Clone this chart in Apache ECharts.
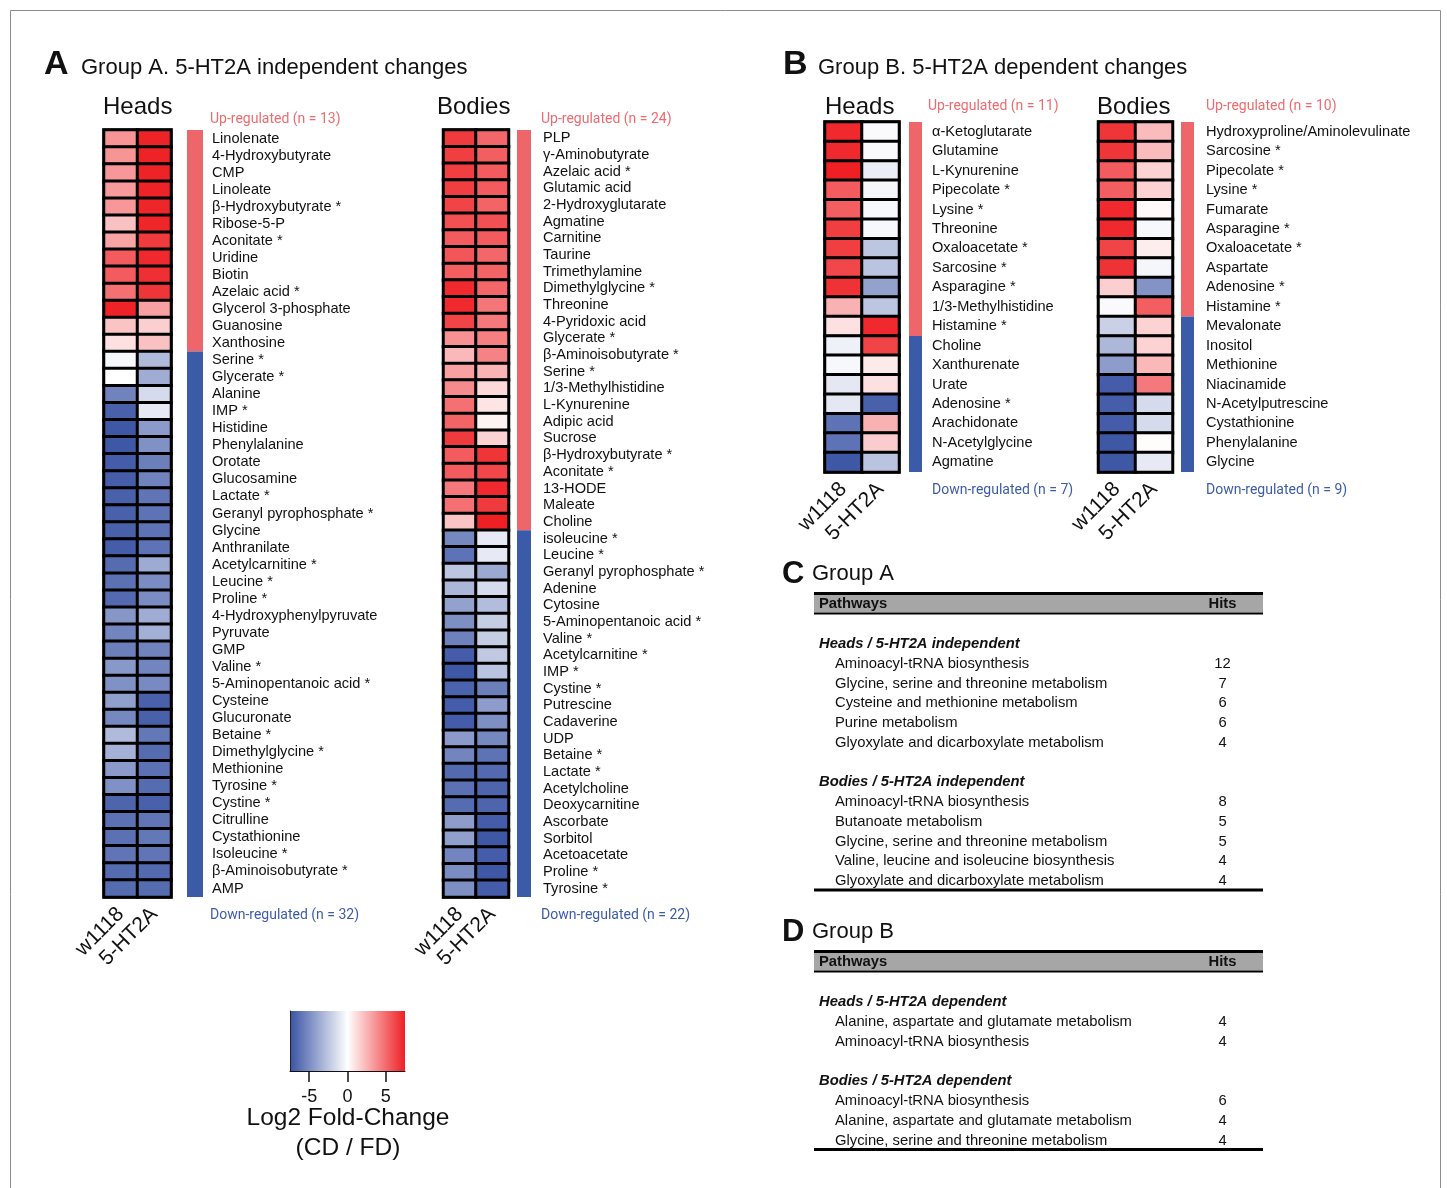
<!DOCTYPE html>
<html>
<head>
<meta charset="utf-8">
<script src="https://cdn.jsdelivr.net/npm/echarts@6/dist/echarts.min.js"></script>
<style>
  html, body { margin: 0; padding: 0; background: #fff; }
  #chart { width: 1447px; height: 1188px; }
</style>
</head>
<body>
<div id="chart"></div>
<script>
// ---------- data ----------
const genotypes = ['w1118', '5-HT2A'];

// Group A, heads (log2 fold-change CD / FD)
const headsA_names = ['Linolenate', '4-Hydroxybutyrate', 'CMP', 'Linoleate', 'β-Hydroxybutyrate *', 'Ribose-5-P',
  'Aconitate *', 'Uridine', 'Biotin', 'Azelaic acid *', 'Glycerol 3-phosphate', 'Guanosine', 'Xanthosine',
  'Serine *', 'Glycerate *', 'Alanine', 'IMP *', 'Histidine', 'Phenylalanine', 'Orotate', 'Glucosamine',
  'Lactate *', 'Geranyl pyrophosphate *', 'Glycine', 'Anthranilate', 'Acetylcarnitine *', 'Leucine *',
  'Proline *', '4-Hydroxyphenylpyruvate', 'Pyruvate', 'GMP', 'Valine *', '5-Aminopentanoic acid *',
  'Cysteine', 'Glucuronate', 'Betaine *', 'Dimethylglycine *', 'Methionine', 'Tyrosine *', 'Cystine *',
  'Citrulline', 'Cystathionine', 'Isoleucine *', 'β-Aminoisobutyrate *', 'AMP'];
const headsA_w1118 = [3.6, 3.6, 3.5, 3.4, 3.5, 2.1, 3.1, 5.5, 5.5, 4.8, 7.4, 2.0, 1.0,
  -0.3, 0.0, -5.4, -6.9, -7.3, -7.3, -7.1, -7.0, -6.9, -6.9, -6.9, -7.1, -6.4, -6.2, -6.5, -4.6, -5.3,
  -5.6, -4.5, -4.8, -4.2, -5.2, -3.0, -3.4, -4.4, -4.8, -6.7, -6.2, -6.2, -6.0, -6.4, -6.4];
const headsA_5ht2a = [7.4, 7.4, 7.4, 7.4, 7.3, 7.3, 6.6, 7.2, 7.0, 6.8, 3.2, 1.6, 2.1,
  -3.0, -3.6, -1.6, -0.9, -4.4, -4.8, -5.6, -5.4, -6.0, -6.1, -6.1, -6.1, -3.7, -5.0, -5.0, -3.6, -3.5,
  -5.4, -5.3, -5.1, -6.9, -6.9, -5.9, -6.4, -6.2, -6.4, -6.9, -6.0, -5.9, -6.0, -6.5, -6.4];
const headsA_up = 13;
const headsA_down = 32;

// Group A, bodies
const bodiesA_names = ['PLP', 'γ-Aminobutyrate', 'Azelaic acid *', 'Glutamic acid', '2-Hydroxyglutarate',
  'Agmatine', 'Carnitine', 'Taurine', 'Trimethylamine', 'Dimethylglycine *', 'Threonine', '4-Pyridoxic acid',
  'Glycerate *', 'β-Aminoisobutyrate *', 'Serine *', '1/3-Methylhistidine', 'L-Kynurenine', 'Adipic acid',
  'Sucrose', 'β-Hydroxybutyrate *', 'Aconitate *', '13-HODE', 'Maleate', 'Choline',
  'isoleucine *', 'Leucine *', 'Geranyl pyrophosphate *', 'Adenine', 'Cytosine', '5-Aminopentanoic acid *',
  'Valine *', 'Acetylcarnitine *', 'IMP *', 'Cystine *', 'Putrescine', 'Cadaverine', 'UDP', 'Betaine *',
  'Lactate *', 'Acetylcholine', 'Deoxycarnitine', 'Ascorbate', 'Sorbitol', 'Acetoacetate', 'Proline *',
  'Tyrosine *'];
const bodiesA_w1118 = [6.6, 6.5, 6.5, 6.5, 6.3, 5.9, 5.5, 5.7, 5.4, 7.2, 7.2, 6.3, 3.7, 2.4, 3.2, 3.9,
  4.8, 5.2, 6.6, 5.5, 5.5, 4.5, 4.8, 2.0,
  -5.2, -6.1, -2.5, -3.2, -4.1, -4.9, -5.5, -7.1, -7.3, -6.8, -7.1, -7.1, -4.4, -5.3, -6.5, -6.2,
  -6.4, -4.3, -4.2, -5.3, -5.0, -4.9];
const bodiesA_5ht2a = [5.1, 5.4, 5.5, 5.5, 5.2, 5.9, 5.5, 5.1, 5.2, 5.1, 4.6, 4.5, 4.3, 4.2, 2.5, 1.3,
  0.9, 0.4, 1.5, 6.8, 6.2, 7.2, 6.6, 7.5,
  -0.9, -0.9, -3.8, -1.6, -2.9, -2.2, -2.2, -2.4, -2.6, -5.6, -4.3, -4.9, -5.2, -6.1, -6.5, -6.7,
  -6.7, -7.1, -7.3, -7.1, -7.3, -7.1];
const bodiesA_up = 24;
const bodiesA_down = 22;

// Group B, heads
const headsB_names = ['α-Ketoglutarate', 'Glutamine', 'L-Kynurenine', 'Pipecolate *', 'Lysine *', 'Threonine',
  'Oxaloacetate *', 'Sarcosine *', 'Asparagine *', '1/3-Methylhistidine', 'Histamine *',
  'Choline', 'Xanthurenate', 'Urate', 'Adenosine *', 'Arachidonate', 'N-Acetylglycine', 'Agmatine'];
const headsB_w1118 = [7.2, 7.2, 7.5, 5.5, 5.4, 6.5, 6.5, 6.2, 6.9, 2.6, 1.0,
  -0.6, -0.3, -1.0, -1.0, -6.1, -6.1, -7.3];
const headsB_5ht2a = [-0.2, -0.2, -0.8, -0.4, -0.3, -0.3, -2.5, -2.6, -4.1, -2.5, 7.2,
  6.3, 0.7, 1.0, -6.9, 2.6, 1.7, -2.6];
const headsB_up = 11;
const headsB_down = 7;

// Group B, bodies
const bodiesB_names = ['Hydroxyproline/Aminolevulinate', 'Sarcosine *', 'Pipecolate *', 'Lysine *', 'Fumarate',
  'Asparagine *', 'Oxaloacetate *', 'Aspartate', 'Adenosine *', 'Histamine *',
  'Mevalonate', 'Inositol', 'Methionine', 'Niacinamide', 'N-Acetylputrescine', 'Cystathionine',
  'Phenylalanine', 'Glycine'];
const bodiesB_w1118 = [6.8, 6.8, 5.5, 5.4, 7.2, 7.2, 6.3, 6.9, 1.6, -0.2,
  -2.0, -3.1, -4.3, -7.1, -7.0, -7.1, -7.3, -7.3];
const bodiesB_5ht2a = [2.3, 2.3, 1.5, 1.5, 0.2, -0.3, 0.6, -0.4, -4.7, 5.4,
  1.5, 1.5, 2.4, 4.5, -1.6, -1.6, 0.1, -0.9];
const bodiesB_up = 10;
const bodiesB_down = 9;

// colour scale
const scaleMin = -7.5;
const scaleMax = 7.5;
const scaleTicks = [-5, 0, 5];

// pathway tables
const pathsC_heads = ['Aminoacyl-tRNA biosynthesis', 'Glycine, serine and threonine metabolism',
  'Cysteine and methionine metabolism', 'Purine metabolism', 'Glyoxylate and dicarboxylate metabolism'];
const hitsC_heads = [12, 7, 6, 6, 4];
const pathsC_bodies = ['Aminoacyl-tRNA biosynthesis', 'Butanoate metabolism',
  'Glycine, serine and threonine metabolism', 'Valine, leucine and isoleucine biosynthesis',
  'Glyoxylate and dicarboxylate metabolism'];
const hitsC_bodies = [8, 5, 5, 4, 4];
const pathsD_heads = ['Alanine, aspartate and glutamate metabolism', 'Aminoacyl-tRNA biosynthesis'];
const hitsD_heads = [4, 4];
const pathsD_bodies = ['Aminoacyl-tRNA biosynthesis', 'Alanine, aspartate and glutamate metabolism',
  'Glycine, serine and threonine metabolism'];
const hitsD_bodies = [6, 4, 4];

// ---------- styling ----------
const FONT = '"Liberation Sans", Arial, Helvetica, sans-serif';
const NOTE_FONT = 'Roboto, "Liberation Sans", Arial, sans-serif';
const LOW = '#3953a4', MID = '#ffffff', HIGH = '#ee2024';
const UP_BAR = '#ef666a', DOWN_BAR = '#3b5ba9';
const UP_TEXT = '#ef6b6f', DOWN_TEXT = '#3d5ca8';
const INK = '#111111';

const panels = [
  { names: headsA_names, w: headsA_w1118, h: headsA_5ht2a, up: headsA_up, down: headsA_down,
    heat: { left: 104, top: 130, width: 67, height: 767 }, bar: { left: 187, width: 16 }, margin: 9,
    title: 'Heads', titleX: 103, titleY: 107, noteX: 210, upY: 119, downX: 210, downY: 915 },
  { names: bodiesA_names, w: bodiesA_w1118, h: bodiesA_5ht2a, up: bodiesA_up, down: bodiesA_down,
    heat: { left: 443.5, top: 130, width: 65, height: 767 }, bar: { left: 517, width: 14 }, margin: 12,
    title: 'Bodies', titleX: 437, titleY: 107, noteX: 541, upY: 119, downX: 541, downY: 915 },
  { names: headsB_names, w: headsB_w1118, h: headsB_5ht2a, up: headsB_up, down: headsB_down,
    heat: { left: 825, top: 122, width: 74, height: 350 }, bar: { left: 909, width: 13 }, margin: 10,
    title: 'Heads', titleX: 825, titleY: 107, noteX: 928, upY: 106, downX: 932, downY: 490 },
  { names: bodiesB_names, w: bodiesB_w1118, h: bodiesB_5ht2a, up: bodiesB_up, down: bodiesB_down,
    heat: { left: 1098.5, top: 122, width: 74, height: 350 }, bar: { left: 1181, width: 13 }, margin: 12,
    title: 'Bodies', titleX: 1097, titleY: 107, noteX: 1206, upY: 106, downX: 1206, downY: 490 }
];

const grid = [], xAxis = [], yAxis = [], series = [];

// heatmaps
panels.forEach((p, i) => {
  grid.push({ left: p.heat.left, top: p.heat.top, width: p.heat.width, height: p.heat.height,
    show: true, backgroundColor: '#000', borderColor: '#000', borderWidth: 3 });
  xAxis.push({ type: 'category', gridIndex: i, data: genotypes,
    axisLine: { show: false }, axisTick: { show: false }, splitLine: { show: false },
    axisLabel: { interval: 0, rotate: 45, margin: 14, fontSize: 21, fontFamily: FONT, color: INK } });
  yAxis.push({ type: 'category', gridIndex: i, data: p.names, inverse: true, show: false });
  const data = [];
  p.names.forEach((n, r) => { data.push([0, r, p.w[r]]); data.push([1, r, p.h[r]]); });
  series.push({ type: 'heatmap', xAxisIndex: i, yAxisIndex: i, data, silent: true,
    itemStyle: { borderColor: '#000', borderWidth: 3 }, emphasis: { disabled: true } });
});

// up / down group bars (stacked counts) with the metabolite names beside them
panels.forEach((p, i) => {
  const g = panels.length + i;
  grid.push({ left: p.bar.left, top: p.heat.top, width: p.bar.width, height: p.heat.height });
  xAxis.push({ type: 'category', gridIndex: g, data: ['group'], show: false });
  const countAxis = yAxis.length;
  yAxis.push({ type: 'value', gridIndex: g, min: 0, max: p.names.length, inverse: true, show: false });
  yAxis.push({ type: 'category', gridIndex: g, data: p.names, inverse: true, position: 'right',
    axisLine: { show: false }, axisTick: { show: false }, splitLine: { show: false },
    axisLabel: { interval: 0, margin: p.margin, fontSize: 14.6, fontFamily: FONT, color: INK } });
  series.push({ type: 'bar', xAxisIndex: g, yAxisIndex: countAxis, stack: 'group' + i, silent: true,
    barWidth: '100%', data: [p.up], itemStyle: { color: UP_BAR } });
  series.push({ type: 'bar', xAxisIndex: g, yAxisIndex: countAxis, stack: 'group' + i, silent: true,
    barWidth: '100%', data: [p.names.length - p.up], itemStyle: { color: DOWN_BAR } });
});

// colour key
const keyIdx = panels.length * 2;
grid.push({ left: 290, top: 1011, width: 115, height: 60, show: true, borderWidth: 0,
  backgroundColor: new echarts.graphic.LinearGradient(0, 0, 1, 0,
    [{ offset: 0, color: LOW }, { offset: 0.5, color: MID }, { offset: 1, color: HIGH }]) });
xAxis.push({ type: 'value', gridIndex: keyIdx, min: scaleMin, max: scaleMax, splitLine: { show: false },
  axisLine: { show: true, onZero: false, lineStyle: { color: INK, width: 1 } },
  axisTick: { show: true, customValues: scaleTicks, length: 11, lineStyle: { color: INK, width: 1.5 } },
  axisLabel: { customValues: scaleTicks, fontSize: 18, margin: 17, color: INK, fontFamily: FONT } });
yAxis.push({ type: 'value', gridIndex: keyIdx, min: 0, max: 1, splitLine: { show: false },
  axisLine: { show: true, onZero: false, lineStyle: { color: '#222', width: 1 } },
  axisTick: { show: false }, axisLabel: { show: false } });

// ---------- text and tables ----------
function txt(text, x, y, font, fill, align) {
  return { type: 'text', x, y, silent: true, z: 10,
    style: { text, font, fill: fill || INK, textAlign: align || 'left', textVerticalAlign: 'middle' } };
}
function box(x, y, w, h, fill) {
  return { type: 'rect', silent: true, z: 9, shape: { x, y, width: w, height: h }, style: { fill } };
}

const graphics = [];
graphics.push({ type: 'rect', silent: true, shape: { x: 10.5, y: 10.5, width: 1430, height: 1200 },
  style: { fill: 'none', stroke: '#8c8c8c', lineWidth: 1 } });

graphics.push(txt('A', 44, 65, 'bold 34px ' + FONT));
graphics.push(txt('Group A. 5-HT2A independent changes', 81, 68, '22px ' + FONT));
graphics.push(txt('B', 783, 65, 'bold 34px ' + FONT));
graphics.push(txt('Group B. 5-HT2A dependent changes', 818, 68, '22px ' + FONT));

panels.forEach(p => {
  graphics.push(txt(p.title, p.titleX, p.titleY, '24px ' + FONT));
  graphics.push(txt('Up-regulated (n = ' + p.up + ')', p.noteX, p.upY, '14px ' + NOTE_FONT, UP_TEXT));
  graphics.push(txt('Down-regulated (n = ' + p.down + ')', p.downX, p.downY, '14px ' + NOTE_FONT, DOWN_TEXT));
});

// colour key title
graphics.push(txt('Log2 Fold-Change', 348, 1118, '24.5px ' + FONT, INK, 'center'));
graphics.push(txt('(CD / FD)', 348, 1148, '24.5px ' + FONT, INK, 'center'));

function pathwayTable(letter, title, top, secA, pathsA, hitsA, secB, pathsB, hitsB) {
  const left = 814, right = 1263, hitX = 1222.5, rowGap = 19.7;
  const f = '14.8px ' + FONT;
  graphics.push(txt(letter, 782, top - 18, 'bold 31px ' + FONT));
  graphics.push(txt(title, 812, top - 18, '22px ' + FONT));
  graphics.push(box(left, top, right - left, 3, '#000'));
  graphics.push(box(left, top + 3, right - left, 17.5, '#a6a6a6'));
  graphics.push(box(left, top + 20.5, right - left, 2, '#000'));
  graphics.push(txt('Pathways', 819, top + 12, 'bold ' + f));
  graphics.push(txt('Hits', hitX, top + 12, 'bold ' + f, INK, 'center'));
  let y = top + 51.5;
  [[secA, pathsA, hitsA], [secB, pathsB, hitsB]].forEach(([sec, paths, hits], k) => {
    if (k === 1) y += 39;
    graphics.push(txt(sec, 819, y, 'italic bold ' + f));
    paths.forEach((name, j) => {
      y += (j === 0 ? 20.5 : rowGap);
      graphics.push(txt(name, 835, y, f));
      graphics.push(txt(String(hits[j]), hitX, y, f, INK, 'center'));
    });
  });
  graphics.push(box(left, y + 7.5, right - left, 3, '#000'));
}
pathwayTable('C', 'Group A', 592, 'Heads / 5-HT2A independent', pathsC_heads, hitsC_heads,
  'Bodies / 5-HT2A independent', pathsC_bodies, hitsC_bodies);
pathwayTable('D', 'Group B', 950, 'Heads / 5-HT2A dependent', pathsD_heads, hitsD_heads,
  'Bodies / 5-HT2A dependent', pathsD_bodies, hitsD_bodies);

// ---------- chart ----------
const chart = echarts.init(document.getElementById('chart'), null, { renderer: 'canvas' });
chart.setOption({
  animation: false,
  backgroundColor: '#ffffff',
  grid, xAxis, yAxis, series,
  visualMap: [
    { type: 'continuous', show: false, min: scaleMin, max: scaleMax, seriesIndex: [0, 1, 2, 3],
      inRange: { color: [LOW, MID, HIGH] } }
  ],
  graphic: { elements: graphics }
});
</script>
</body>
</html>
